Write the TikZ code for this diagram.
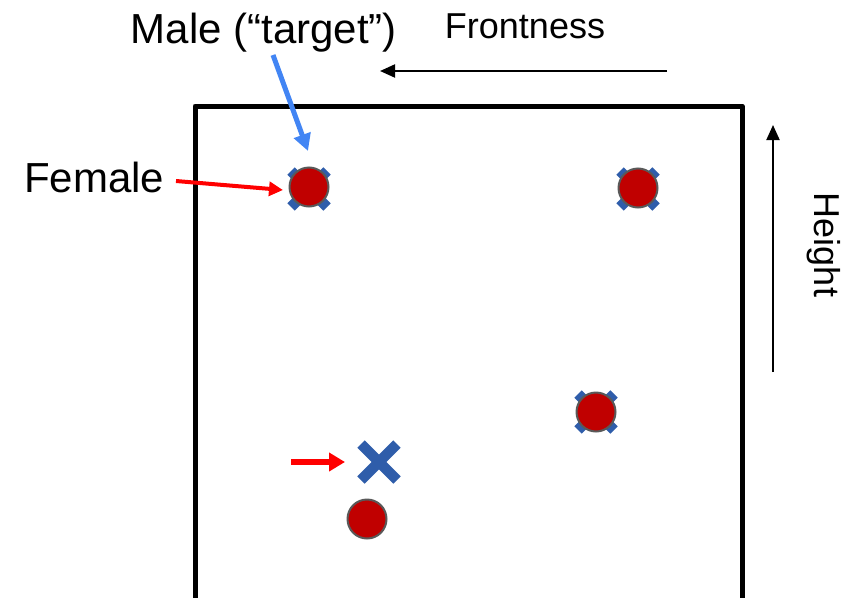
\documentclass[tikz,border=0pt]{standalone}
\usepackage{fontspec}
\setmainfont{Liberation Sans}
\usetikzlibrary{arrows.meta}
\definecolor{dotred}{RGB}{192,0,0}
\definecolor{dotedge}{RGB}{89,89,89}
\definecolor{xblue}{RGB}{47,93,170}
\definecolor{lblue}{RGB}{66,133,244}
\definecolor{pured}{RGB}{255,0,0}
\tikzset{
  dot/.style={circle, fill=dotred, draw=dotedge, line width=2pt, minimum size=39pt, inner sep=0pt},
  xbox/.style={rectangle, minimum size=36pt, inner sep=0pt, outer sep=0pt},
  xline/.style={draw=xblue, line width=10.5pt},
  bigtext/.style={font=\fontsize{42}{48}\selectfont, inner sep=0pt},
  midtext/.style={font=\fontsize{36}{42}\selectfont, inner sep=0pt},
  axisarrow/.style={draw=black, line width=2pt, -{Triangle[length=15pt,width=13pt]}},
  redarrow/.style={draw=pured, line width=4pt, -{Triangle[length=14pt,width=14pt]}},
  bluearrow/.style={draw=lblue, line width=5pt, -{Triangle[length=17pt,width=17pt]}},
  frame/.style={draw=black, line width=5pt, line join=round}
}
\begin{document}
\begin{tikzpicture}[x=1pt,y=-1pt]
\useasboundingbox[fill=white] (0,0) rectangle (858,597);
% frame
\draw[frame] (195,605) -- (195,106) -- (742,106) -- (742,605);
% crosses behind dots
\node[xbox] (x1) at (309,189) {};
\node[xbox] (x2) at (638,189) {};
\node[xbox] (x3) at (596,412) {};
\node[xbox] (x4) at (379,462) {};
\foreach \n in {x1,x2,x3,x4}{
  \draw[xline] (\n.north west) -- (\n.south east);
  \draw[xline] (\n.north east) -- (\n.south west);
}
% dots
\node[dot] (d1) at (309,187) {};
\node[dot] (d2) at (638,188) {};
\node[dot] (d3) at (596,412) {};
\node[dot] (d4) at (367,519) {};
% labels
\node[bigtext, anchor=base] (male) at (264,43) {Male (“target”)};
\node[bigtext, anchor=base west] (female) at (24,192) {Female};
\node[midtext, anchor=base] (front) at (525,38) {Frontness};
\node[midtext, rotate=-90] (height) at (824,245) {Height};
% arrows
\coordinate (fs) at (667,71);
\coordinate (fe) at (380,71);
\draw[axisarrow] (fs) -- (fe);
\coordinate (hs) at (773,372);
\coordinate (he) at (773,125);
\draw[axisarrow] (hs) -- (he);
\coordinate (bs) at (273,55);
\coordinate (be) at (308,151);
\draw[bluearrow] (bs) -- (be);
\coordinate (rs) at (176,181);
\coordinate (re) at (283,190);
\draw[redarrow] (rs) -- (re);
\coordinate (ls) at (291,462);
\coordinate (le) at (345,462);
\draw[pured, line width=6pt, -{Triangle[length=16pt,width=18pt]}] (ls) -- (le);
\end{tikzpicture}
\end{document}
